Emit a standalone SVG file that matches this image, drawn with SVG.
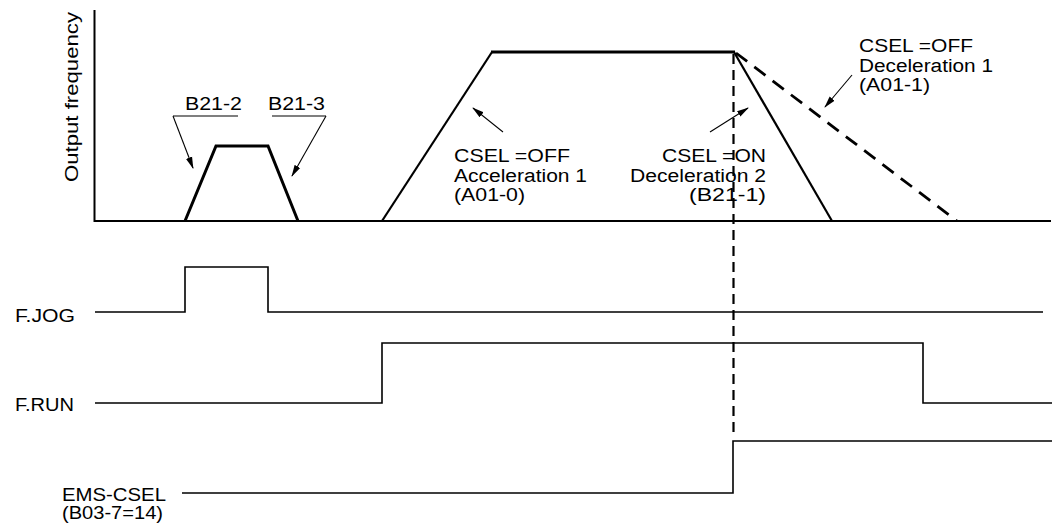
<svg xmlns="http://www.w3.org/2000/svg" width="1053" height="529" viewBox="0 0 1053 529">
<style>
text{font-family:"Liberation Sans",Arial,sans-serif;fill:#000;font-size:18px}
.sig{fill:none;stroke:#000;stroke-width:1.6}
.thick{fill:none;stroke:#000;stroke-width:3;stroke-linejoin:miter}
.mid{fill:none;stroke:#000;stroke-width:2.2}
.axis{fill:none;stroke:#000;stroke-width:2}
.ptr{fill:none;stroke:#000;stroke-width:1.1;marker-end:url(#ah)}
.lead{fill:none;stroke:#000;stroke-width:1.1}
</style>
<defs>
<marker id="ah" markerWidth="12" markerHeight="8" refX="11" refY="4" orient="auto" markerUnits="userSpaceOnUse">
<path d="M0,0.8 L12,4 L0,7.2 Z" fill="#000"/>
</marker>
</defs>
<rect width="1053" height="529" fill="#fff"/>
<g id="axes">
<path class="axis" d="M94.5,10 V221 H1051"/>
<text transform="translate(78,182) rotate(-90)" textLength="170" lengthAdjust="spacingAndGlyphs" font-size="20">Output frequency</text>
</g>
<g id="jog-curve">
<path class="thick" d="M185,221 L216,146 H268 L298,221"/>
</g>
<g id="run-curve">
<path class="mid" d="M382,221 L492,52"/>
<path class="thick" d="M491,52 H735"/>
<path class="mid" d="M734,52 L832,221"/>
<path fill="none" stroke="#000" stroke-width="2.8" stroke-dasharray="14,9" d="M736,53 L957,221"/>
</g>
<g id="label-b21-2">
<text x="185" y="110" textLength="57" lengthAdjust="spacingAndGlyphs">B21-2</text>
</g>
<g id="label-b21-3">
<text x="268" y="110" textLength="57" lengthAdjust="spacingAndGlyphs">B21-3</text>
</g>
<g id="label-acc1">
<text x="454" y="162" textLength="116" lengthAdjust="spacingAndGlyphs">CSEL =OFF</text>
<text x="454" y="182" textLength="133" lengthAdjust="spacingAndGlyphs">Acceleration 1</text>
<text x="454" y="201" textLength="71" lengthAdjust="spacingAndGlyphs">(A01-0)</text>
</g>
<g id="label-dec2">
<text x="662" y="162" textLength="104" lengthAdjust="spacingAndGlyphs">CSEL =ON</text>
<text x="630" y="182" textLength="136" lengthAdjust="spacingAndGlyphs">Deceleration 2</text>
<text x="689" y="201" textLength="77" lengthAdjust="spacingAndGlyphs">(B21-1)</text>
</g>
<g id="label-dec1">
<text x="859" y="52" textLength="114" lengthAdjust="spacingAndGlyphs">CSEL =OFF</text>
<text x="859" y="72" textLength="134" lengthAdjust="spacingAndGlyphs">Deceleration 1</text>
<text x="859" y="91" textLength="71" lengthAdjust="spacingAndGlyphs">(A01-1)</text>
</g>
<g id="sig-fjog">
<text x="15" y="322" textLength="60" lengthAdjust="spacingAndGlyphs">F.JOG</text>
<path class="sig" d="M95,312 H185 V267 H268 V312 H1043"/>
</g>
<g id="sig-frun">
<text x="15" y="411" textLength="59" lengthAdjust="spacingAndGlyphs">F.RUN</text>
<path class="sig" d="M95,403 H382 V343 H923 V403 H1052"/>
</g>
<g id="sig-emscsel">
<text x="62" y="501" textLength="104" lengthAdjust="spacingAndGlyphs" font-size="16.5">EMS-CSEL</text>
<text x="62" y="519" textLength="101" lengthAdjust="spacingAndGlyphs" font-size="16.5">(B03-7=14)</text>
<path class="sig" d="M182,493 H733 V441 H1052"/>
</g>
<g id="connectors">
<path class="lead" d="M238,116 H173"/>
<path class="ptr" d="M173,116 L193,168"/>
<path class="lead" d="M272,116 H326"/>
<path class="ptr" d="M326,116 L292,176"/>
<path class="ptr" d="M503,132 L473,108"/>
<path class="ptr" d="M710,132 L748,108"/>
<path class="ptr" d="M852,75 L825,107"/>
<path fill="none" stroke="#000" stroke-width="2.2" stroke-dasharray="10,6" d="M733.5,54 V436"/>
</g>
</svg>
